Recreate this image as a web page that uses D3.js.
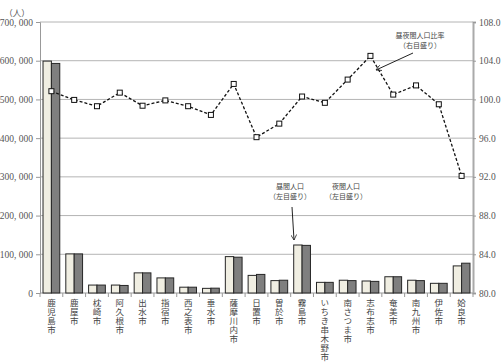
<!DOCTYPE html>
<html>
<head>
<meta charset="utf-8">
<script src="https://cdn.jsdelivr.net/npm/d3@7"></script>
<style>
  body { margin: 0; background: #fff; }
  svg { display: block; }
</style>
</head>
<body>
<script>
const CITIES = ['鹿児島市', '鹿屋市', '枕崎市', '阿久根市', '出水市', '指宿市', '西之表市',
                '垂水市', '薩摩川内市', '日置市', '曽於市', '霧島市', 'いちき串木野市',
                '南さつま市', '志布志市', '奄美市', '南九州市', '伊佐市', '姶良市'];

// 昼間人口 (left axis)
const DAY_POP = [599000, 101000, 20500, 20500, 52000, 39000, 15000, 12000, 94000, 45500,
                 32000, 124000, 27500, 33000, 31000, 42000, 33000, 25000, 70000];
// 夜間人口 (left axis)
const NIGHT_POP = [593000, 101000, 20500, 19500, 52000, 39000, 15000, 12500, 92500, 48000,
                   33000, 123000, 27500, 32000, 30000, 42000, 32000, 25000, 77000];
// 昼夜間人口比率 (right axis)
const RATIO = [100.85, 99.95, 99.3, 100.7, 99.35, 99.9, 99.3, 98.4, 101.6, 96.1,
               97.5, 100.3, 99.65, 102.05, 104.5, 100.5, 101.45, 99.5, 92.1];

const LEFT_TICKS = [0, 100000, 200000, 300000, 400000, 500000, 600000, 700000];
const RIGHT_TICKS = [80, 84, 88, 92, 96, 100, 104, 108];

const W = 503, H = 362;
const plotL = 40, plotR = 473, plotT = 22, plotB = 293;

const svg = d3.select('body').append('svg')
              .attr('width', W)
              .attr('height', H);

const x = d3.scaleBand().domain(CITIES).range([plotL, plotR]);
const xs = d3.scaleBand().domain(['day', 'night']).range([0, x.bandwidth()]).paddingOuter(0.36);
const yL = d3.scaleLinear().domain([0, 700000]).range([plotB, plotT]);
const yR = d3.scaleLinear().domain([80, 108]).range([plotB, plotT]);

const numFont = '"Liberation Serif", "DejaVu Serif", serif';
const jpFont = '"Noto Sans CJK JP", sans-serif';

// grid
svg.append('g').selectAll('line')
   .data(LEFT_TICKS.slice(1))
   .join('line')
   .attr('x1', plotL).attr('x2', plotR)
   .attr('y1', d => yL(d)).attr('y2', d => yL(d))
   .attr('stroke', '#b4b4b4').attr('stroke-width', 1);

// left axis
const fmt = d => d3.format(',')(d).replace(/,/g, ', ');
const gL = svg.append('g').attr('transform', `translate(${plotL},0)`)
              .call(d3.axisLeft(yL).tickValues(LEFT_TICKS).tickFormat(fmt).tickSize(4).tickPadding(3));
gL.select('.domain').attr('stroke', '#999');
gL.selectAll('.tick line').attr('stroke', '#999');
gL.selectAll('text').attr('font-family', numFont).attr('font-size', 9.5).attr('fill', '#555');

// right axis
const gR = svg.append('g').attr('transform', `translate(${plotR},0)`)
              .call(d3.axisRight(yR).tickValues(RIGHT_TICKS).tickFormat(d3.format('.1f')).tickSize(3).tickPadding(3));
gR.select('.domain').attr('stroke', '#aaa').attr('stroke-width', 2);
gR.selectAll('.tick line').attr('stroke', '#999');
gR.selectAll('text').attr('font-family', numFont).attr('font-size', 9.5).attr('fill', '#555');

// x axis ticks at category boundaries
svg.append('line')
   .attr('x1', plotL).attr('x2', plotR).attr('y1', plotB).attr('y2', plotB)
   .attr('stroke', '#999');
svg.append('g').selectAll('line')
   .data(CITIES.concat(['end']))
   .join('line')
   .attr('x1', (d, i) => i < CITIES.length ? x(d) : plotR)
   .attr('x2', (d, i) => i < CITIES.length ? x(d) : plotR)
   .attr('y1', plotB).attr('y2', plotB + 4)
   .attr('stroke', '#999');

// bars
const groups = svg.append('g').selectAll('g')
                  .data(CITIES.map((c, i) => ({ city: c, day: DAY_POP[i], night: NIGHT_POP[i] })))
                  .join('g')
                  .attr('transform', d => `translate(${x(d.city)},0)`);

groups.selectAll('rect')
      .data(d => [{ key: 'day', v: d.day }, { key: 'night', v: d.night }])
      .join('rect')
      .attr('x', d => xs(d.key))
      .attr('width', xs.bandwidth())
      .attr('y', d => yL(d.v))
      .attr('height', d => plotB - yL(d.v))
      .attr('fill', d => d.key === 'day' ? '#f0eee2' : '#7f7f7f')
      .attr('stroke', '#262626')
      .attr('stroke-width', 1);

// category labels, vertical
svg.append('g').selectAll('text')
   .data(CITIES)
   .join('text')
   .attr('x', d => x(d) + x.bandwidth() / 2)
   .attr('y', 299)
   .attr('font-family', jpFont)
   .attr('font-size', 8.5)
   .attr('fill', '#444')
   .style('writing-mode', 'vertical-rl')
   .style('text-orientation', 'upright')
   .style('letter-spacing', '0.4px')
   .text(d => d);

// ratio line
const line = d3.line()
               .x((d, i) => x(CITIES[i]) + x.bandwidth() / 2)
               .y(d => yR(d));

svg.append('path')
   .datum(RATIO)
   .attr('d', line)
   .attr('fill', 'none')
   .attr('stroke', '#111')
   .attr('stroke-width', 1.3)
   .attr('stroke-dasharray', '3,2');

svg.append('g').selectAll('rect')
   .data(RATIO)
   .join('rect')
   .attr('x', (d, i) => x(CITIES[i]) + x.bandwidth() / 2 - 2.5)
   .attr('y', d => yR(d) - 2.5)
   .attr('width', 5).attr('height', 5)
   .attr('fill', '#fff')
   .attr('stroke', '#111')
   .attr('stroke-width', 1);

// unit label
svg.append('text')
   .attr('x', 17).attr('y', 16)
   .attr('text-anchor', 'middle')
   .attr('font-family', jpFont).attr('font-size', 8.5).attr('fill', '#555')
   .text('（人）');

// annotations
svg.append('defs').append('marker')
   .attr('id', 'arr')
   .attr('viewBox', '0 0 10 10')
   .attr('refX', 9).attr('refY', 5)
   .attr('markerWidth', 6).attr('markerHeight', 6)
   .attr('orient', 'auto')
   .append('path')
   .attr('d', 'M0,0 L9,5 L0,10')
   .attr('fill', 'none')
   .attr('stroke', '#222')
   .attr('stroke-width', 1.3);

function note(cx, cy, lines) {
  svg.append('text')
     .attr('font-family', jpFont).attr('font-size', 7).attr('fill', '#444')
     .attr('text-anchor', 'middle')
     .selectAll('tspan')
     .data(lines)
     .join('tspan')
     .attr('x', cx)
     .attr('y', (d, i) => cy + i * 10)
     .text(d => d);
}

note(420, 38, ['昼夜間人口比率', '（右目盛り）']);
note(290, 189, ['昼間人口', '（左目盛り）']);
note(346, 189, ['夜間人口', '（左目盛り）']);

svg.append('line')
   .attr('x1', 413).attr('y1', 53).attr('x2', 376).attr('y2', 70)
   .attr('stroke', '#222').attr('stroke-width', 1)
   .attr('marker-end', 'url(#arr)');

svg.append('line')
   .attr('x1', 292).attr('y1', 207).attr('x2', 294).attr('y2', 240)
   .attr('stroke', '#222').attr('stroke-width', 1)
   .attr('marker-end', 'url(#arr)');
</script>
</body>
</html>
